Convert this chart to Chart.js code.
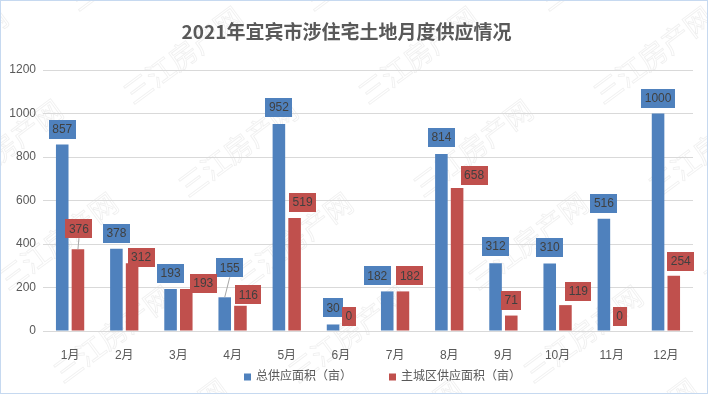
<!DOCTYPE html>
<html><head><meta charset="utf-8">
<script src="https://cdn.jsdelivr.net/npm/chart.js@4/dist/chart.umd.min.js"></script>
<style>html,body{margin:0;padding:0;background:#fff}#wrap{width:708px;height:394px}</style>
</head><body><div id="wrap"><canvas id="c" width="708" height="394"></canvas></div>
<script>
const months = ['1月','2月','3月','4月','5月','6月','7月','8月','9月','10月','11月','12月'];
const totalSupply = [857,378,193,155,952,30,182,814,312,310,516,1000];
const mainCitySupply = [376,312,193,116,519,0,182,658,71,119,0,254];
const seriesNames = ['总供应面积（亩）','主城区供应面积（亩）'];
const seriesColors = ['#4F81BD','#C0504D'];
const yTicks = [0,200,400,600,800,1000,1200];
const titleText = '2021年宜宾市涉住宅土地月度供应情况';
const watermarkText = '三江房产网';

const FONT = '"Liberation Sans", "Noto Sans CJK SC", sans-serif';
const CJK = '"Noto Sans CJK SC", "Liberation Sans", sans-serif';

// label placement tweaks: [dx, gap above bar top, leader line]
const labelPlacement = [
  [[0,6],[0,6],[0,6],[5,20,true],[0,7],[0,7],[-10,6],[0,7],[0,7],[0,7],[0,6],[0,6]],
  [[1,11,true],[9,-4],[17,-4],[8,1.5],[8,6],[0,5],[7,6],[17,3],[0,6],[13,4],[0,5],[7,5]]
];

const bgPlugin = {
  id:'bg',
  beforeDraw(chart){
    const ctx = chart.ctx;
    ctx.save();
    ctx.fillStyle = '#fff';
    ctx.fillRect(0,0,chart.width,chart.height);
    // watermark
    ctx.font = '28px ' + CJK;
    ctx.textAlign = 'center';
    ctx.textBaseline = 'middle';
    ctx.strokeStyle = 'rgba(0,0,0,0.06)';
    ctx.lineWidth = 1;
    for (let i=-1;i<=4;i++){
      for (let j=-2;j<=4;j++){
        const x = 183 + 235*j + 55*i;
        const y = 55 + 93*i;
        if (x < -120 || x > 830 || y < -60 || y > 460) continue;
        ctx.save();
        ctx.translate(x,y);
        ctx.rotate(-36.6*Math.PI/180);
        ctx.strokeText(watermarkText,0,0);
        ctx.restore();
      }
    }
    ctx.restore();
  },
  afterDraw(chart){
    const ctx = chart.ctx;
    ctx.save();
    // legend
    ctx.font = '12px ' + FONT;
    ctx.textBaseline = 'middle';
    ctx.textAlign = 'left';
    let x = 244;
    const y = 377;
    chart.data.datasets.forEach((ds,i)=>{
      ctx.fillStyle = ds.backgroundColor;
      ctx.fillRect(x, y-3.5, 7, 7);
      ctx.fillStyle = '#595959';
      ctx.fillText(ds.label, x+12, y);
      x += 12 + ctx.measureText(ds.label).width + 37;
    });
    // border
    ctx.strokeStyle = '#C6D9F0';
    ctx.lineWidth = 1;
    ctx.strokeRect(0.5,0.5,chart.width-1,chart.height-1);
    ctx.restore();
  }
};

const boxLabelPlugin = {
  id:'boxLabels',
  afterDatasetsDraw(chart){
    const ctx = chart.ctx;
    ctx.save();
    ctx.font = '12px ' + FONT;
    ctx.textAlign = 'center';
    ctx.textBaseline = 'middle';
    chart.data.datasets.forEach((ds,i)=>{
      const meta = chart.getDatasetMeta(i);
      meta.data.forEach((el,j)=>{
        const val = ds.data[j];
        const txt = String(val);
        const p = labelPlacement[i][j] || [0,6];
        const w = ctx.measureText(txt).width + 7;
        const h = 19;
        const cx = el.x + p[0];
        const bottom = el.y - p[1];
        if (p[2]) {
          ctx.strokeStyle = '#a6a6a6';
          ctx.lineWidth = 1;
          ctx.beginPath();
          ctx.moveTo(cx, bottom);
          ctx.lineTo(el.x, el.y);
          ctx.stroke();
        }
        ctx.fillStyle = ds.backgroundColor;
        ctx.fillRect(Math.round(cx - w/2), Math.round(bottom - h), Math.round(w), h);
        ctx.fillStyle = '#404040';
        ctx.fillText(txt, cx, bottom - h/2 + 0.5);
      });
    });
    ctx.restore();
  }
};

new Chart(document.getElementById('c'), {
  type:'bar',
  data:{
    labels: months,
    datasets:[
      {label: seriesNames[0], data: totalSupply, backgroundColor: seriesColors[0], categoryPercentage:0.58, barPercentage:0.8},
      {label: seriesNames[1], data: mainCitySupply, backgroundColor: seriesColors[1], categoryPercentage:0.58, barPercentage:0.8}
    ]
  },
  options:{
    responsive:false,
    animation:false,
    devicePixelRatio:1,
    layout:{padding:{left:0,right:15,top:0,bottom:33}},
    plugins:{
      legend:{display:false},
      tooltip:{enabled:false},
      title:{display:true, text:titleText, color:'#595959',
        font:{family:CJK, size:19, weight:'bold', lineHeight:1.2},
        padding:{top:20.6,bottom:26.6}}
    },
    scales:{
      x:{
        grid:{display:false}, border:{display:false},
        ticks:{color:'#595959', font:{family:FONT,size:12}, padding:9, maxRotation:0, autoSkip:false},
        afterFit(s){ s.height = 30; }
      },
      y:{
        min:0, max:1200,
        grid:{color:'#d9d9d9', drawTicks:false, lineWidth:1},
        border:{display:false},
        ticks:{stepSize:200, color:'#595959', font:{family:FONT,size:12}, padding:7,
          callback:(v)=>String(v)},
        afterBuildTicks(axis){ axis.ticks = yTicks.map(v=>({value:v})); },
        afterFit(s){ s.width = 43; }
      }
    }
  },
  plugins:[bgPlugin, boxLabelPlugin]
});
</script>
</body></html>
